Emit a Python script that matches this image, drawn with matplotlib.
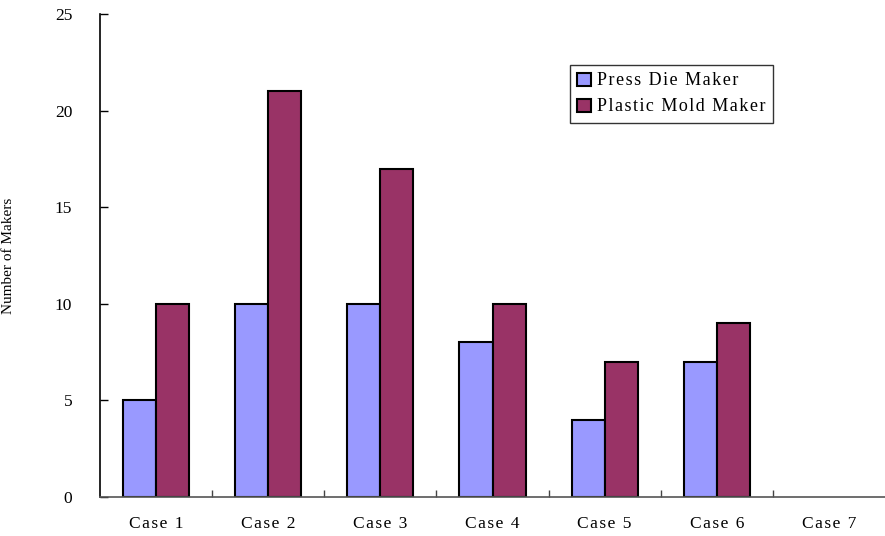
import numpy as np
import matplotlib.pyplot as plt

# Number of makers per case
cases = ["Case 1", "Case 2", "Case 3", "Case 4", "Case 5", "Case 6", "Case 7"]
press_die = [5, 10, 10, 8, 4, 7, 0]
plastic_mold = [10, 21, 17, 10, 7, 9, 0]
series_names = ["Press Die Maker", "Plastic Mold Maker"]

plt.rcParams['font.family'] = ['Liberation Serif', 'DejaVu Serif']


def spaced(s):
    # widen letter spacing a little with hair spaces
    return "\u200a".join(s)


fig = plt.figure(figsize=(8.85, 5.36), dpi=100)
ax = fig.add_axes([100 / 885, 39 / 536, 785 / 885, 483 / 536])

x = np.arange(len(cases))
w = 0.295
for i in range(len(cases)):
    if press_die[i] > 0:
        ax.bar(x[i] - w / 2, press_die[i], w, color='#9999FF', edgecolor='black', linewidth=1.5)
    if plastic_mold[i] > 0:
        ax.bar(x[i] + w / 2, plastic_mold[i], w, color='#993366', edgecolor='black', linewidth=1.5)

ax.set_xlim(-0.5, len(cases) - 0.5)
ax.set_ylim(0, 25)
ax.set_yticks(range(0, 26, 5))
ax.tick_params(axis='y', direction='in', length=6, width=1, labelsize=12.5, pad=20)

# category labels without ticks, separator ticks between categories
ax.set_xticks(x)
ax.set_xticklabels([spaced(c) for c in cases], fontsize=12.5)
ax.tick_params(axis='x', length=0, pad=14)
ax.set_xticks(np.arange(0.5, len(cases) - 0.5, 1), minor=True)
ax.tick_params(axis='x', which='minor', direction='in', length=5, width=1, color='#444444')

ax.spines['top'].set_visible(False)
ax.spines['right'].set_visible(False)
ax.spines['left'].set_linewidth(1.2)
ax.spines['bottom'].set_color('#555555')
ax.spines['bottom'].set_linewidth(1.2)

ax.set_ylabel("Number of Makers", fontsize=11)
ax.yaxis.set_label_coords(-0.108, 0.5)

handles = [plt.Rectangle((0, 0), 1, 1, facecolor='#9999FF', edgecolor='black', linewidth=1.5),
           plt.Rectangle((0, 0), 1, 1, facecolor='#993366', edgecolor='black', linewidth=1.5)]
leg = ax.legend(handles, [spaced(s) for s in series_names],
                loc='upper left', bbox_to_anchor=(0.599, 0.894), borderaxespad=0,
                fontsize=13, frameon=True, fancybox=False, edgecolor='black',
                handlelength=0.75, handleheight=0.75, handletextpad=0.35,
                borderpad=0.4, labelspacing=0.5)
leg.get_frame().set_linewidth(1.0)

fig.savefig("out.png", dpi=100)
